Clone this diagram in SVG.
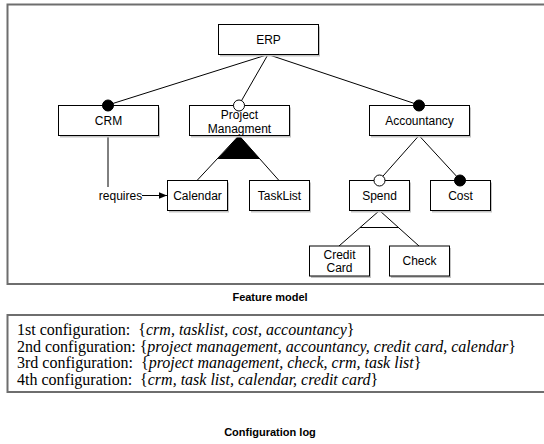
<svg xmlns="http://www.w3.org/2000/svg" width="544" height="444" viewBox="0 0 544 444">
<defs>
<style>
.frame{fill:none;stroke:#6e6e6e;stroke-width:2}
.box{fill:#fff;stroke:#000;stroke-width:1}
.shadow{fill:#c4c4c4}
.lbl{font-family:"Liberation Sans",Arial,sans-serif;font-size:12px;text-anchor:middle;fill:#000}
.cap{font-family:"Liberation Sans",Arial,sans-serif;font-size:11px;font-weight:bold;text-anchor:middle;fill:#000}
.cfg{font-family:"Liberation Serif","Times New Roman",serif;font-size:16px;fill:#000}
.it{font-style:italic}
.ln{fill:none;stroke:#000;stroke-width:1}
.mand{fill:#000;stroke:#000;stroke-width:1}
.opt{fill:#fff;stroke:#000;stroke-width:1}
</style>
<marker id="arr" viewBox="0 0 10 10" refX="10" refY="5" markerWidth="8" markerHeight="8" markerUnits="userSpaceOnUse" orient="auto">
<path d="M0,1 L10,5 L0,9 Z" fill="#000"/>
</marker>
</defs>
<rect width="544" height="444" fill="#fff"/>
<rect class="frame" x="7.5" y="4.5" width="560" height="279.5"/>
<g id="connectors">
<line class="ln" x1="268" y1="54.5" x2="108" y2="105"/>
<line class="ln" x1="268" y1="54.5" x2="239" y2="105"/>
<line class="ln" x1="268" y1="54.5" x2="419" y2="105"/>
<line class="ln" x1="239" y1="135.5" x2="197" y2="180.5"/>
<line class="ln" x1="239" y1="135.5" x2="279" y2="180.5"/>
<polygon points="239,135.5 217.5,159 260,159" fill="#000"/>
<line class="ln" x1="419" y1="135.5" x2="379.5" y2="180"/>
<line class="ln" x1="419" y1="135.5" x2="460" y2="180"/>
<line class="ln" x1="379.5" y1="210.5" x2="339" y2="246"/>
<line class="ln" x1="379.5" y1="210.5" x2="419" y2="246"/>
<line class="ln" x1="360" y1="227.5" x2="398.5" y2="227.5"/>
<line class="ln" x1="108" y1="135.5" x2="108" y2="187"/>
<line class="ln" x1="142" y1="195.5" x2="167" y2="195.5" marker-end="url(#arr)"/>
<text class="lbl" x="120.5" y="200">requires</text>
</g>
<g id="erp"><rect class="shadow" x="220" y="26.5" width="100" height="30"/><rect class="box" x="218.5" y="24.5" width="100" height="30"/><text class="lbl" x="268.5" y="44">ERP</text></g>
<g id="crm"><rect class="shadow" x="60" y="107.5" width="100" height="30"/><rect class="box" x="58.5" y="105.5" width="100" height="30"/><text class="lbl" x="108.5" y="125">CRM</text><circle class="mand" cx="108" cy="105.5" r="5.5"/></g>
<g id="project"><rect class="shadow" x="191" y="107.5" width="100" height="30"/><rect class="box" x="189.5" y="105.5" width="100" height="30"/><text class="lbl" x="239.5" y="118.5">Project</text><text class="lbl" x="239.5" y="132.5">Managment</text><circle class="opt" cx="239" cy="105.5" r="5.5"/></g>
<g id="accountancy"><rect class="shadow" x="371" y="107.5" width="100" height="30"/><rect class="box" x="369.5" y="105.5" width="100" height="30"/><text class="lbl" x="419.5" y="125">Accountancy</text><circle class="mand" cx="419" cy="105.5" r="5.5"/></g>
<g id="calendar"><rect class="shadow" x="169" y="182.5" width="60" height="30"/><rect class="box" x="167.5" y="180.5" width="60" height="30"/><text class="lbl" x="197.5" y="200">Calendar</text></g>
<g id="tasklist"><rect class="shadow" x="251" y="182.5" width="60" height="30"/><rect class="box" x="249.5" y="180.5" width="60" height="30"/><text class="lbl" x="279.5" y="200">TaskList</text></g>
<g id="spend"><rect class="shadow" x="351" y="182.5" width="60" height="30"/><rect class="box" x="349.5" y="180.5" width="60" height="30"/><text class="lbl" x="379.5" y="200">Spend</text><circle class="opt" cx="379.5" cy="180.5" r="5.5"/></g>
<g id="cost"><rect class="shadow" x="432" y="182.5" width="60" height="30"/><rect class="box" x="430.5" y="180.5" width="60" height="30"/><text class="lbl" x="460.5" y="200">Cost</text><circle class="mand" cx="460" cy="180.5" r="5.5"/></g>
<g id="creditcard"><rect class="shadow" x="311" y="248" width="60" height="30"/><rect class="box" x="309.5" y="246" width="60" height="30"/><text class="lbl" x="339.5" y="258.5">Credit</text><text class="lbl" x="339.5" y="272">Card</text></g>
<g id="check"><rect class="shadow" x="391" y="248" width="60" height="30"/><rect class="box" x="389.5" y="246" width="60" height="30"/><text class="lbl" x="419.5" y="265">Check</text></g>
<text class="cap" x="270" y="301">Feature model</text>
<g id="configlog">
<rect class="frame" x="7.5" y="315" width="560" height="77"/>
<text class="cfg" x="17" y="335" xml:space="preserve">1st configuration:  {<tspan class="it">crm, tasklist, cost, accountancy</tspan>}</text>
<text class="cfg" x="17" y="351.5" xml:space="preserve">2nd configuration: {<tspan class="it">project management, accountancy, credit card, calendar</tspan>}</text>
<text class="cfg" x="17" y="368" xml:space="preserve">3rd configuration:  {<tspan class="it">project management, check, crm, task list</tspan>}</text>
<text class="cfg" x="17" y="384.5" xml:space="preserve">4th configuration:  {<tspan class="it">crm, task list, calendar, credit card</tspan>}</text>
</g>
<text class="cap" x="270" y="436">Configuration log</text>
</svg>
